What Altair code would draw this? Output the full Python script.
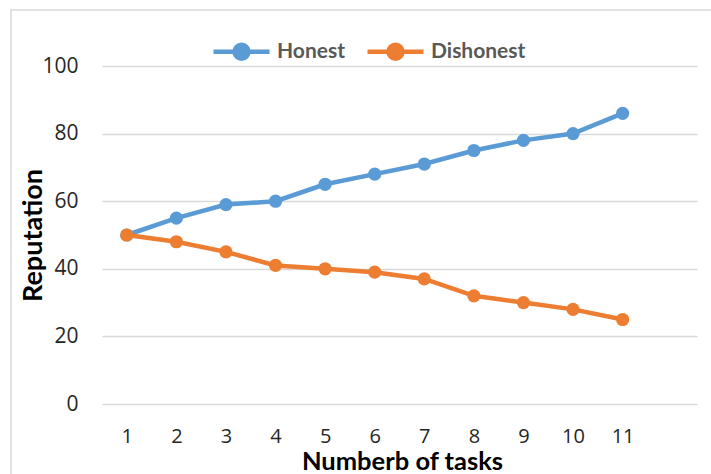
import altair as alt
import pandas as pd

tasks = list(range(1, 12))
honest = [50, 55, 59, 60, 65, 68, 71, 75, 78, 80, 86]
dishonest = [50, 48, 45, 41, 40, 39, 37, 32, 30, 28, 25]
series_names = ["Honest", "Dishonest"]
series_colors = ["#5B9BD5", "#ED7D31"]

rows = []
for name, values in zip(series_names, [honest, dishonest]):
    for t, v in zip(tasks, values):
        rows.append({"task": t, "series": name, "reputation": v})
df = pd.DataFrame(rows)

# legend glyph: a short line with a dot in the middle
legend_glyph = (
    "M-1,0 L1,0 "
    "M-0.25,0 A0.25,0.25 0 1,0 0.25,0 A0.25,0.25 0 1,0 -0.25,0 Z"
)

color = alt.Color(
    "series:N",
    scale=alt.Scale(domain=series_names, range=series_colors),
    sort=series_names,
    legend=alt.Legend(
        title=None,
        orient="none",
        direction="horizontal",
        legendX=109,
        legendY=-45,
        symbolType=legend_glyph,
        symbolSize=3136,
        symbolStrokeWidth=4.5,
        labelOffset=5,
        columnPadding=12,
        labelFont="Lato",
        labelFontWeight="bold",
        labelFontSize=21,
        labelColor="#595959",
    ),
)

x = alt.X(
    "task:Q",
    scale=alt.Scale(domain=[0.5, 12.5], nice=False, zero=False),
    axis=alt.Axis(
        values=tasks,
        title="Numberb of tasks",
        titleX=300,
        titleY=57,
        titleBaseline="middle",
        titleFont="Lato",
        titleFontWeight="bold",
        titleFontSize=25.5,
        titleColor="#000000",
        labelFont="Open Sans",
        labelFontSize=20,
        labelColor="#262626",
        labelPadding=22,
        ticks=False,
        domain=False,
        grid=False,
    ),
)

y = alt.Y(
    "reputation:Q",
    scale=alt.Scale(domain=[0, 100], nice=False),
    axis=alt.Axis(
        values=[0, 20, 40, 60, 80, 100],
        title="Reputation",
        titleX=-69,
        titleY=169,
        titleAngle=270,
        titleBaseline="middle",
        titleFont="Lato",
        titleFontWeight="bold",
        titleFontSize=27,
        titleColor="#000000",
        labelFont="Open Sans",
        labelFontSize=21,
        labelColor="#262626",
        labelPadding=24,
        ticks=False,
        domain=False,
        grid=True,
        gridColor="#D9D9D9",
        gridWidth=1.5,
    ),
)

# outer chart frame
frame = alt.Chart(pd.DataFrame({"f": [0]})).mark_rect(
    fill=None, stroke="#D9D9D9", strokeWidth=1.5
).encode(
    x=alt.value(-91), x2=alt.value(640), y=alt.value(-56), y2=alt.value(430)
)

lines = alt.Chart(df).mark_line(strokeWidth=4.5).encode(
    x=x, y=y, color=color, order=alt.Order("task:Q")
)
points = alt.Chart(df).mark_circle(size=175, opacity=1).encode(
    x=x, y=y, color=color
)

chart = alt.layer(frame, lines, points).properties(
    width=595,
    height=338,
    autosize=alt.AutoSizeParams(type="none"),
    padding={"left": 102, "top": 66, "right": 14, "bottom": 70},
    background="white",
).configure_view(stroke=None)

chart.save("out.html", embed_options={"renderer": "svg", "actions": False})
